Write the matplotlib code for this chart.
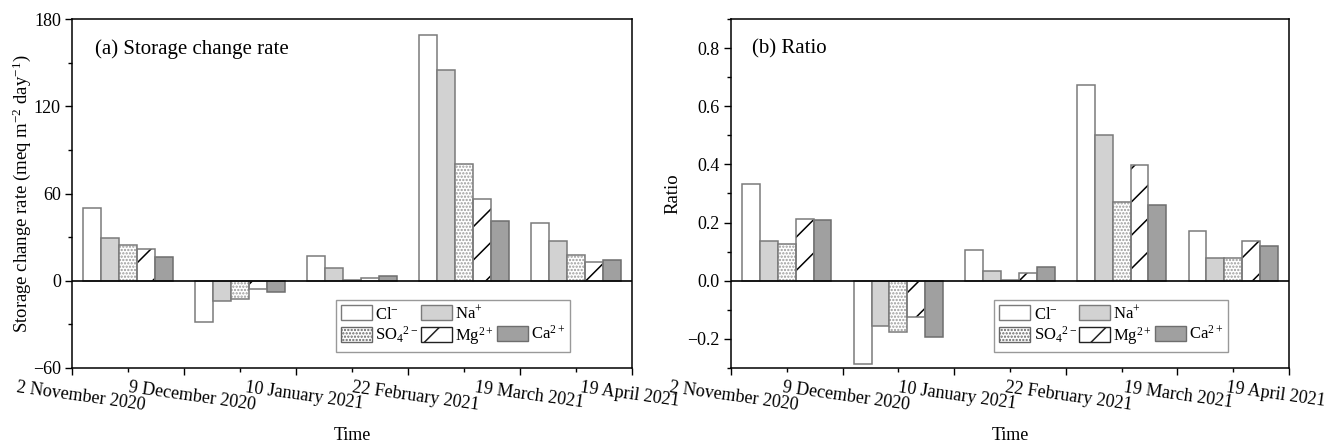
import numpy as np
import matplotlib
matplotlib.use("Agg")
import matplotlib.pyplot as plt
from matplotlib.patches import Patch
from matplotlib.ticker import MultipleLocator
from matplotlib.transforms import ScaledTranslation

plt.rcParams["font.family"] = ["Liberation Serif", "DejaVu Serif"]
plt.rcParams["mathtext.fontset"] = "custom"
plt.rcParams["mathtext.rm"] = "Liberation Serif"
plt.rcParams["mathtext.it"] = "Liberation Serif:italic"
plt.rcParams["font.size"] = 13
plt.rcParams["hatch.linewidth"] = 1.1

# ---- data ----
dates = ["2 November 2020", "9 December 2020", "10 January 2021",
         "22 February 2021", "19 March 2021", "19 April 2021"]
ions = ["Cl$^{-}$", "Na$^{+}$", "SO$_4$$^{2-}$", "Mg$^{2+}$", "Ca$^{2+}$"]

storage_cl = [49.9, -28.1, 16.9, 168.9, 39.6]
storage_na = [29.7, -14.2, 8.7, 144.6, 27.5]
storage_so4 = [24.3, -12.4, 0.7, 80.5, 17.8]
storage_mg = [21.7, -5.7, 1.8, 56.5, 12.6]
storage_ca = [16.5, -8.0, 3.2, 41.4, 14.4]

ratio_cl = [0.333, -0.286, 0.106, 0.674, 0.170]
ratio_na = [0.135, -0.157, 0.034, 0.500, 0.079]
ratio_so4 = [0.126, -0.177, 0.003, 0.272, 0.077]
ratio_mg = [0.213, -0.126, 0.027, 0.397, 0.136]
ratio_ca = [0.208, -0.193, 0.046, 0.261, 0.120]

# ---- bar styles ----
EDGE = "#7a7a7a"
styles = [
    dict(fc="white", ec=EDGE, hatch=None, hc=None),
    dict(fc="#d2d2d2", ec=EDGE, hatch=None, hc=None),
    dict(fc="white", ec=EDGE, hatch=".....", hc="#9a9a9a"),
    dict(fc="white", ec=EDGE, hatch="/", hc="black"),
    dict(fc="#a0a0a0", ec="#6e6e6e", hatch=None, hc=None),
]

fig = plt.figure(figsize=(13.38, 4.46), dpi=100)
W, H = 1338, 446
ax1 = fig.add_axes([72 / W, (H - 368) / H, 560 / W, 349 / H])
ax2 = fig.add_axes([731 / W, (H - 368) / H, 558 / W, 349 / H])

width = 0.16
centers = np.arange(len(dates) - 1) + 0.5


def draw_bars(ax, series):
    for i, (vals, st) in enumerate(zip(series, styles)):
        xs = centers + (i - 2) * width
        if st["hatch"]:
            ax.bar(xs, vals, width, color=st["fc"], edgecolor=st["hc"],
                   hatch=st["hatch"], linewidth=0, zorder=2)
            ax.bar(xs, vals, width, fill=False, edgecolor=st["ec"],
                   linewidth=1.1, zorder=3)
        else:
            ax.bar(xs, vals, width, color=st["fc"], edgecolor=st["ec"],
                   linewidth=1.1, zorder=2)
    ax.axhline(0, color="black", lw=1.2, zorder=4)


def legend_handles():
    hs = []
    for st in styles:
        if st["hatch"]:
            ec = "#222222" if st["hc"] == "black" else "#666666"
            hs.append(Patch(facecolor=st["fc"], edgecolor=ec,
                            hatch=st["hatch"], linewidth=1.0))
        else:
            hs.append(Patch(facecolor=st["fc"], edgecolor=st["ec"], linewidth=1.0))
    return hs


def style_axes(ax, offsets_px):
    ax.set_xlim(0, len(dates) - 1)
    ax.set_xticks(range(len(dates)))
    ax.set_xticklabels(dates, rotation=-8, ha="center")
    ax.xaxis.set_minor_locator(MultipleLocator(0.5))
    ax.tick_params(which="major", direction="out", length=5, width=1,
                   top=False, right=False, pad=3, labelsize=13)
    ax.tick_params(which="minor", direction="out", length=3, width=1,
                   top=False, right=False)
    for sp in ax.spines.values():
        sp.set_linewidth(1.1)
    for lbl, dx in zip(ax.get_xticklabels(), offsets_px):
        off = ScaledTranslation(dx / 100, 0, fig.dpi_scale_trans)
        lbl.set_transform(lbl.get_transform() + off)
    ax.set_xlabel("Time", fontsize=13)
    ax.xaxis.set_label_coords(0.5, -0.17)

    hs = legend_handles()
    blank = Patch(facecolor="none", edgecolor="none")
    handles = [hs[0], hs[2], hs[1], hs[3], blank, hs[4]]
    labels = [ions[0], ions[2], ions[1], ions[3], "", ions[4]]
    leg = ax.legend(handles, labels, ncol=3, loc="lower left",
                    bbox_to_anchor=(0.472, 0.046), fontsize=12,
                    handlelength=1.85, handleheight=1.0, handletextpad=0.2,
                    columnspacing=0.15, labelspacing=0.15, borderpad=0.3,
                    borderaxespad=0, fancybox=False, frameon=True)
    leg.get_frame().set_edgecolor("#808080")
    leg.get_frame().set_linewidth(1.0)


# (a) storage change rate
draw_bars(ax1, [storage_cl, storage_na, storage_so4, storage_mg, storage_ca])
ax1.set_ylim(-60, 180)
ax1.set_yticks([-60, 0, 60, 120, 180])
ax1.set_yticklabels(["\u221260", "0", "60", "120", "180"])
ax1.yaxis.set_minor_locator(MultipleLocator(30))
style_axes(ax1, [9, 8, 8, 8, 9, -2])
ax1.set_ylabel("Storage change rate (meq m$^{-2}$ day$^{-1}$)", fontsize=13.5)
ax1.yaxis.set_label_coords(-0.07, 0.5)
ax1.text(0.041, 0.915, "(a) Storage change rate", transform=ax1.transAxes,
         fontsize=15, va="center", ha="left")

# (b) ratio
draw_bars(ax2, [ratio_cl, ratio_na, ratio_so4, ratio_mg, ratio_ca])
ax2.set_ylim(-0.3, 0.9)
ax2.set_yticks([-0.2, 0.0, 0.2, 0.4, 0.6, 0.8])
ax2.set_yticklabels(["\u22120.2", "0.0", "0.2", "0.4", "0.6", "0.8"])
ax2.yaxis.set_minor_locator(MultipleLocator(0.1))
style_axes(ax2, [3, 3, 3, 3, 1, -13])
ax2.set_ylabel("Ratio", fontsize=13.5)
ax2.yaxis.set_label_coords(-0.088, 0.5)
ax2.text(0.038, 0.915, "(b) Ratio", transform=ax2.transAxes,
         fontsize=15, va="center", ha="left")

fig.savefig("out.png", dpi=100)
